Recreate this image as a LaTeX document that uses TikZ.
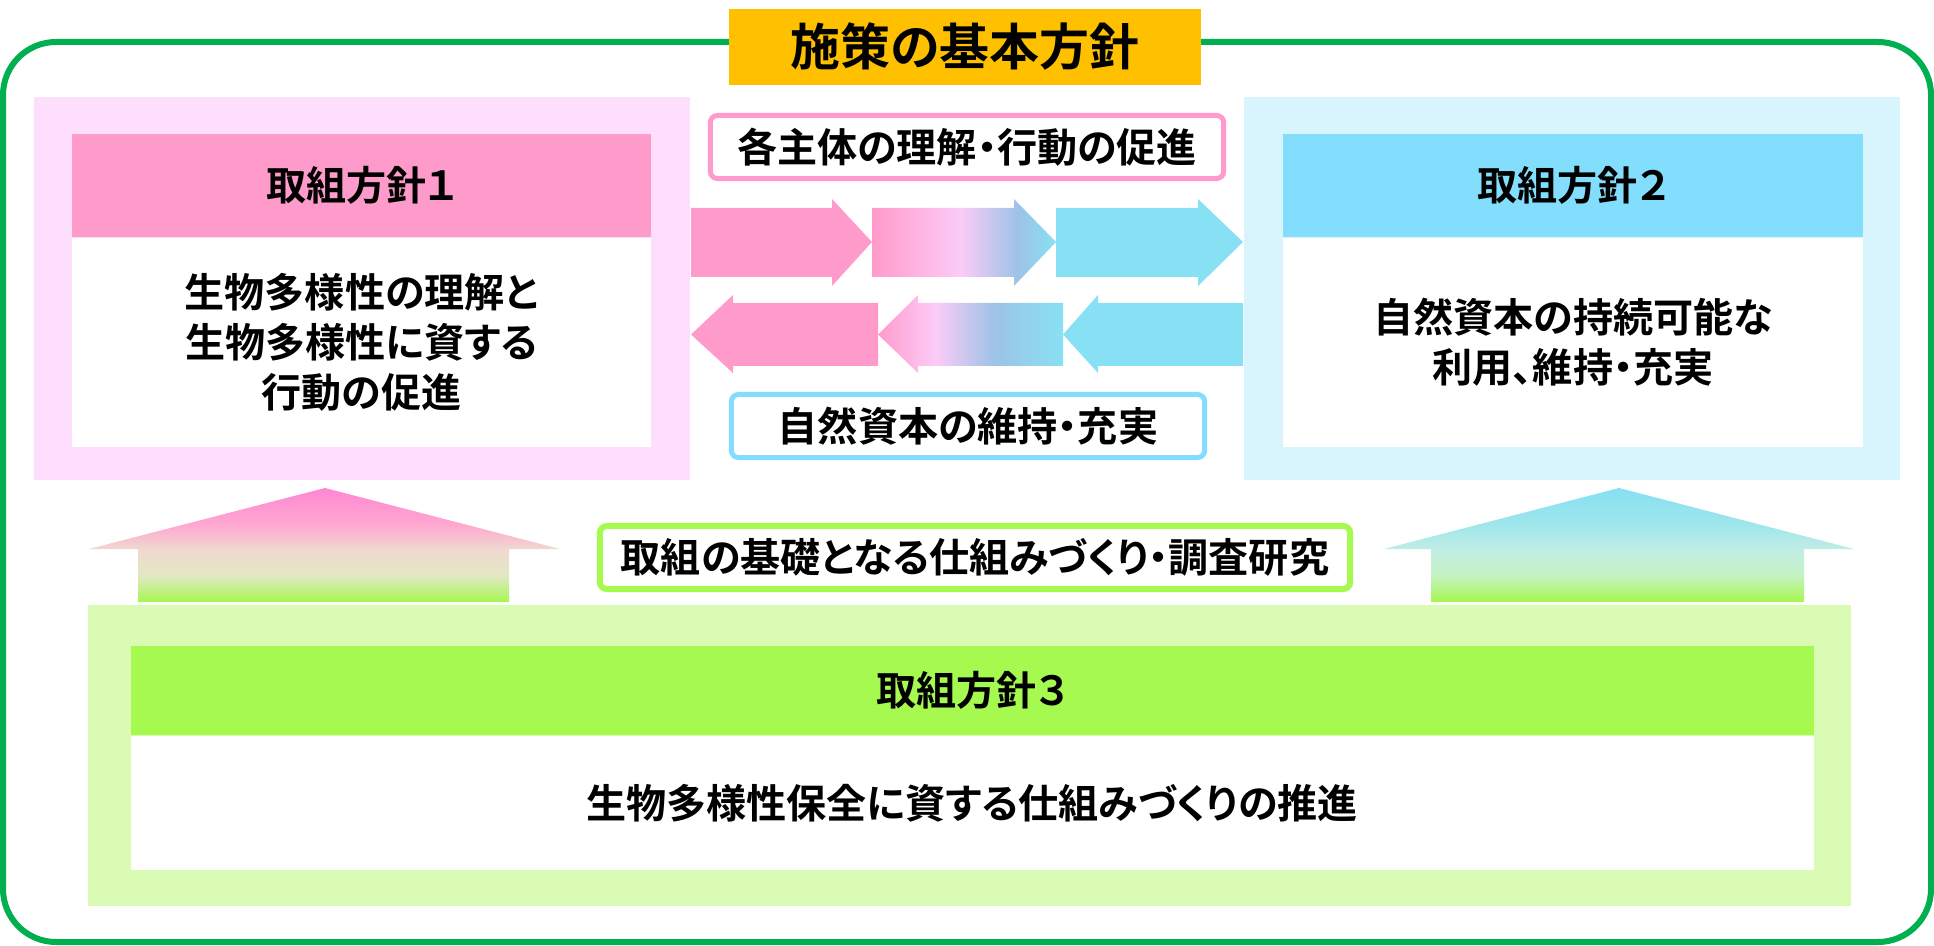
\documentclass[tikz,border=0pt]{standalone}
\usepackage{fontspec}
\setmainfont{Noto Sans CJK JP}[BoldFont={Noto Sans CJK JP Bold}, RawFeature=+palt]
\usepackage{xcolor}
\usetikzlibrary{positioning}

\definecolor{frameGreen}{HTML}{00B050}
\definecolor{titleOrange}{HTML}{FFC000}
\definecolor{pinkPale}{HTML}{FDDFFD}
\definecolor{pinkHead}{HTML}{FF9BCB}
\definecolor{bluePale}{HTML}{D8F4FD}
\definecolor{blueHead}{HTML}{82DEFC}
\definecolor{greenPale}{HTML}{D9FBB3}
\definecolor{greenHead}{HTML}{A5F94F}
\definecolor{arrPink}{HTML}{FF9BCB}
\definecolor{arrLight}{HTML}{FCCBF7}
\definecolor{arrBlue}{HTML}{9DC3E6}
\definecolor{arrCyan}{HTML}{88E0F4}
\definecolor{upGreen}{HTML}{A6F750}
\definecolor{upMidG}{HTML}{E2E8C4}
\definecolor{upMidP}{HTML}{F0D8D0}
\definecolor{upPinkL}{HTML}{FFA8D0}
\definecolor{upPink}{HTML}{FF87D3}
\definecolor{upCyanL}{HTML}{A0E6EC}
\definecolor{upCyanM}{HTML}{C0EDE5}
\definecolor{upCyanG}{HTML}{C6F2C2}
\definecolor{upCyan}{HTML}{86E0F2}

% gradients of the middle arrows and of the two upward arrows
\pgfdeclarehorizontalshading{toprowmix}{100bp}{color(0bp)=(arrPink); color(25bp)=(arrPink);
  color(49bp)=(arrLight); color(64.5bp)=(arrBlue); color(75bp)=(arrCyan); color(100bp)=(arrCyan)}
\pgfdeclarehorizontalshading{botrowmix}{100bp}{color(0bp)=(arrPink); color(25bp)=(arrPink);
  color(40.5bp)=(arrLight); color(56.5bp)=(arrBlue); color(75bp)=(arrCyan); color(100bp)=(arrCyan)}
\pgfdeclareverticalshading{uppink}{100bp}{color(0bp)=(upGreen); color(25bp)=(upGreen);
  color(36.8bp)=(upMidG); color(48.2bp)=(upMidP); color(58.8bp)=(upPinkL); color(75bp)=(upPink); color(100bp)=(upPink)}
\pgfdeclareverticalshading{upcyan}{100bp}{color(0bp)=(upGreen); color(25bp)=(upGreen);
  color(36.8bp)=(upCyanG); color(48.2bp)=(upCyanM); color(58.8bp)=(upCyanL); color(75bp)=(upCyan); color(100bp)=(upCyan)}

\begin{document}
\begin{tikzpicture}[
  x=0.01cm, y=-0.01cm,
  txt/.style={font=\fontsize{11.4pt}{14.2pt}\selectfont\bfseries, align=center},
  panel/.style={inner sep=0pt},
  head/.style={txt, inner sep=0pt, minimum height=1.03cm},
  body/.style={txt, fill=white, inner sep=0pt},
  label/.style={txt, fill=white, line width=0.05cm, rounded corners=2pt, inner sep=0pt,
    minimum height=0.63cm},
]
  \useasboundingbox (0,0) rectangle (1934,946);

  % outer frame and title
  \draw[frameGreen, line width=0.06cm, rounded corners=0.53cm] (3,42) rectangle (1931,942);
  \node[fill=titleOrange, minimum width=4.72cm, minimum height=0.76cm, inner sep=0pt,
    font=\fontsize{14.2pt}{17pt}\selectfont\bfseries] (title) at (965,47) {施策の基本方針};

  % policy 1
  \node[panel, fill=pinkPale, minimum width=6.56cm, minimum height=3.83cm] (panelone) at (362,288.5) {};
  \node[head, fill=pinkHead, minimum width=5.79cm] (headone) at (361.5,185.5) {取組方針１};
  \node[body, minimum width=5.79cm, minimum height=2.08cm, below=0pt of headone] (bodyone)
    {生物多様性の理解と\\生物多様性に資する\\行動の促進};

  % policy 2
  \node[panel, fill=bluePale, minimum width=6.56cm, minimum height=3.83cm] (paneltwo) at (1572,288.5) {};
  \node[head, fill=blueHead, minimum width=5.80cm] (headtwo) at (1573,185.5) {取組方針２};
  \node[body, minimum width=5.80cm, minimum height=2.08cm, below=0pt of headtwo] (bodytwo)
    {自然資本の持続可能な\\利用、維持・充実};

  % policy 3
  \node[panel, fill=greenPale, minimum width=17.61cm, minimum height=3.01cm] (panelthree) at (969.5,755.5) {};
  \node[head, fill=greenHead, minimum width=16.82cm, minimum height=0.89cm] (headthree) at (972,690.5) {取組方針３};
  \node[body, minimum width=16.82cm, minimum height=1.33cm, below=0pt of headthree] (bodythree)
    {生物多様性保全に資する仕組みづくりの推進};

  % arrows between policy 1 and 2
  \fill[arrPink] (691,208) -- (832,208) -- (832,199) -- (872,242) -- (832,286) -- (832,277) -- (691,277) -- cycle;
  \shade[shading=toprowmix] (872,208) -- (1014,208) -- (1014,199) -- (1056,242) -- (1014,286) -- (1014,277) -- (872,277) -- cycle;
  \fill[arrCyan] (1056,208) -- (1198,208) -- (1198,199) -- (1243,242) -- (1198,286) -- (1198,277) -- (1056,277) -- cycle;

  \fill[arrPink] (691,334.5) -- (733,295) -- (733,303) -- (878,303) -- (878,366) -- (733,366) -- (733,373) -- cycle;
  \shade[shading=botrowmix] (878,334.5) -- (918,295) -- (918,303) -- (1063,303) -- (1063,366) -- (918,366) -- (918,373) -- cycle;
  \fill[arrCyan] (1063,334.5) -- (1098,295) -- (1098,303) -- (1243,303) -- (1243,366) -- (1098,366) -- (1098,373) -- cycle;

  \node[label, draw=pinkHead, minimum width=5.13cm] (labelone) at (967,147) {各主体の理解・行動の促進};
  \node[label, draw=blueHead, minimum width=4.73cm] (labeltwo) at (968,426) {自然資本の維持・充実};

  % upward arrows from policy 3
  \shade[shading=uppink] (138,602) -- (138,549) -- (89,549) -- (325,488) -- (560,549) -- (509,549) -- (509,602) -- cycle;
  \shade[shading=upcyan] (1431,602) -- (1431,549) -- (1384,549) -- (1619,488) -- (1854,549) -- (1804,549) -- (1804,602) -- cycle;
  \node[label, draw=greenHead, line width=0.06cm, minimum width=7.50cm, minimum height=0.63cm]
    (labelthree) at (975,557.5) {取組の基礎となる仕組みづくり・調査研究};
\end{tikzpicture}
\end{document}
